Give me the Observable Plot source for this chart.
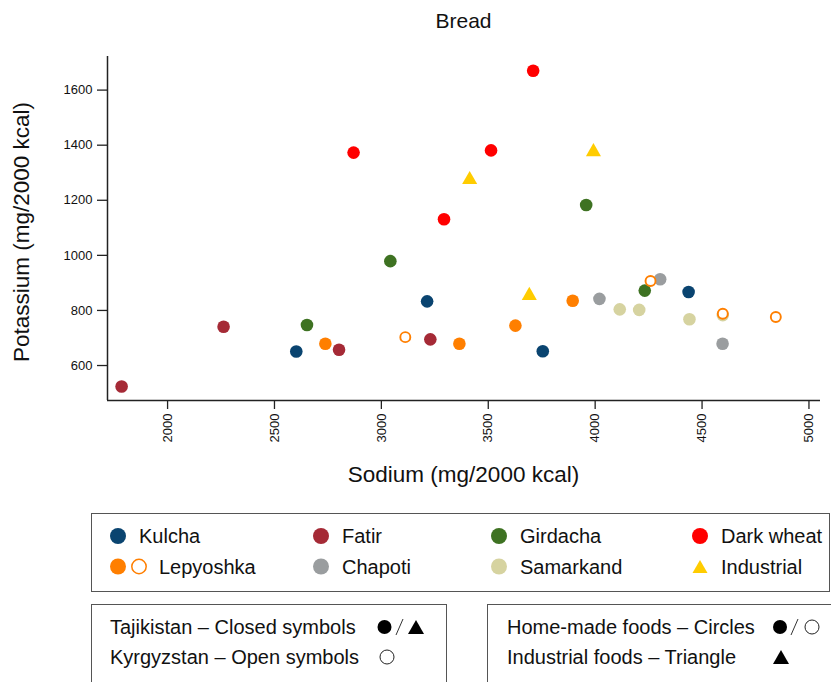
<!DOCTYPE html>
<html>
<head>
<meta charset="utf-8">
<script src="https://cdn.jsdelivr.net/npm/d3@7"></script>
<script src="https://cdn.jsdelivr.net/npm/@observablehq/plot@0.6"></script>
<style>
  body { margin: 0; background: #fff; font-family: "Liberation Sans", Arial, Helvetica, sans-serif; color: #111; }
  #wrap { position: relative; width: 831px; height: 682px; overflow: hidden; }
  #chart { position: absolute; left: 0; top: 0; }
  #chart svg text { font-size: 13px !important; font-family: "Liberation Sans", Arial, sans-serif !important; }
  .abs { position: absolute; white-space: nowrap; }
  .box { position: absolute; border: 1.3px solid #555; box-sizing: border-box; }
</style>
</head>
<body>
<div id="wrap">
  <div id="chart"></div>
</div>
<script>
// ---- data ----
const categories = ["Kulcha", "Fatir", "Girdacha", "Dark wheat", "Lepyoshka", "Chapoti", "Samarkand", "Industrial"];
const categoryColors = ["#0a4470", "#a52a36", "#3e7222", "#ff0000", "#ff7f00", "#9a9d9f", "#d6d3a0", "#ffcc00"];

const kulchaSodium = [2602, 3214, 3755, 4437];
const kulchaPotassium = [651, 833, 652, 867];
const fatirSodium = [1785, 2262, 2802, 3229];
const fatirPotassium = [524, 741, 657, 695];
const girdachaSodium = [2652, 3042, 3958, 4232];
const girdachaPotassium = [747, 979, 1183, 872];
const darkWheatSodium = [2870, 3293, 3513, 3710];
const darkWheatPotassium = [1373, 1131, 1381, 1670];
const lepyoshkaTjSodium = [2738, 3365, 3627, 3895];
const lepyoshkaTjPotassium = [679, 679, 745, 835];
const lepyoshkaKgSodium = [3112, 4259, 4597, 4845];
const lepyoshkaKgPotassium = [703, 907, 788, 776];
const chapotiSodium = [4020, 4304, 4596];
const chapotiPotassium = [842, 913, 679];
const samarkandSodium = [4115, 4206, 4441, 4597];
const samarkandPotassium = [804, 802, 768, 783];
const industrialSodium = [3413, 3692, 3992];
const industrialPotassium = [1275, 854, 1376];

const xTicks = [2000, 2500, 3000, 3500, 4000, 4500, 5000];
const yTicks = [600, 800, 1000, 1200, 1400, 1600];
const xDomain = [1719, 5054];
const yDomain = [473, 1722];

// ---- build tables ----
function rows(na, k, bread, country) {
  return na.map((v, i) => ({sodium: v, potassium: k[i], bread, country}));
}
const closed = [
  ...rows(kulchaSodium, kulchaPotassium, "Kulcha", "Tajikistan"),
  ...rows(fatirSodium, fatirPotassium, "Fatir", "Tajikistan"),
  ...rows(girdachaSodium, girdachaPotassium, "Girdacha", "Tajikistan"),
  ...rows(darkWheatSodium, darkWheatPotassium, "Dark wheat", "Tajikistan"),
  ...rows(lepyoshkaTjSodium, lepyoshkaTjPotassium, "Lepyoshka", "Tajikistan"),
  ...rows(chapotiSodium, chapotiPotassium, "Chapoti", "Tajikistan"),
  ...rows(samarkandSodium, samarkandPotassium, "Samarkand", "Tajikistan")
];
const open = rows(lepyoshkaKgSodium, lepyoshkaKgPotassium, "Lepyoshka", "Kyrgyzstan");
const industrial = rows(industrialSodium, industrialPotassium, "Industrial", "Tajikistan");

const color = {domain: categories, range: categoryColors};
const font = "Liberation Sans, Arial, Helvetica, sans-serif";
const plain = d => String(d);

const chart = Plot.plot({
  width: 831,
  height: 500,
  marginTop: 56,
  marginBottom: 100,
  marginLeft: 107,
  marginRight: 11,
  style: {fontFamily: font, fontSize: "13px", color: "#111", background: "transparent"},
  x: {domain: xDomain},
  y: {domain: yDomain},
  color,
  marks: [
    Plot.axisX({ticks: xTicks, tickFormat: plain, tickRotate: -90, tickSize: 9, tickPadding: 4, fontSize: 13, label: null, stroke: "#222", strokeWidth: 1.3}),
    Plot.axisY({ticks: yTicks, tickFormat: plain, tickSize: 10, tickPadding: 5, fontSize: 13, label: null, stroke: "#222", strokeWidth: 1.3}),
    Plot.ruleX([xDomain[0]], {stroke: "#222", strokeWidth: 1.5}),
    Plot.ruleY([yDomain[0]], {stroke: "#222", strokeWidth: 1.5}),
    Plot.dot(closed, {x: "sodium", y: "potassium", fill: "bread", r: 6.3, stroke: "none"}),
    Plot.dot(open, {x: "sodium", y: "potassium", stroke: "bread", fill: "white", r: 5, strokeWidth: 1.9}),
    Plot.dot(industrial, {x: "sodium", y: "potassium", fill: "bread", symbol: "triangle", r: 5.6, stroke: "none"})
  ]
});
document.getElementById("chart").appendChild(chart);

// ---- titles & labels (HTML) ----
const wrap = document.getElementById("wrap");
function addText(txt, css) {
  const d = document.createElement("div");
  d.className = "abs";
  d.textContent = txt;
  Object.assign(d.style, css);
  wrap.appendChild(d);
  return d;
}
addText("Bread", {left: "107px", width: "713px", textAlign: "center", top: "9px", height: "24px", lineHeight: "24px", fontSize: "21px"});
addText("Sodium (mg/2000 kcal)", {left: "107px", width: "713px", textAlign: "center", top: "462px", height: "26px", lineHeight: "26px", fontSize: "22.5px"});
addText("Potassium (mg/2000 kcal)", {left: "-128px", top: "219px", width: "300px", height: "26px", lineHeight: "26px", textAlign: "center", fontSize: "22.5px", transform: "rotate(-90deg)", transformOrigin: "150px 13px"});

// ---- legend boxes ----
function box(l, t, w, h) {
  const d = document.createElement("div");
  d.className = "box";
  Object.assign(d.style, {left: l + "px", top: t + "px", width: w + "px", height: h + "px"});
  wrap.appendChild(d);
}
box(91, 513, 739, 79);
box(91, 604, 356, 100);
box(487, 604, 360, 100);

const svgNS = "http://www.w3.org/2000/svg";
const overlay = document.createElementNS(svgNS, "svg");
overlay.setAttribute("width", 831);
overlay.setAttribute("height", 682);
overlay.style.position = "absolute";
overlay.style.left = "0";
overlay.style.top = "0";
overlay.style.pointerEvents = "none";
wrap.appendChild(overlay);
function el(tag, attrs) {
  const e = document.createElementNS(svgNS, tag);
  for (const k in attrs) e.setAttribute(k, attrs[k]);
  overlay.appendChild(e);
  return e;
}
function tri(cx, cy, w, h, fill) {
  el("polygon", {points: `${cx - w / 2},${cy + h / 2} ${cx + w / 2},${cy + h / 2} ${cx},${cy - h / 2}`, fill});
}
const colorOf = Object.fromEntries(categories.map((c, i) => [c, categoryColors[i]]));

const legendCols = [118, 321, 499, 700];
const rowY = [536, 566.5];
const legendLayout = [
  ["Kulcha", 0, 0], ["Fatir", 1, 0], ["Girdacha", 2, 0], ["Dark wheat", 3, 0],
  ["Lepyoshka", 0, 1], ["Chapoti", 1, 1], ["Samarkand", 2, 1], ["Industrial", 3, 1]
];
for (const [name, col, row] of legendLayout) {
  const cx = legendCols[col], cy = rowY[row];
  let textX = cx + 21;
  if (name === "Industrial") {
    tri(cx, cy, 15, 13, colorOf[name]);
  } else if (name === "Lepyoshka") {
    el("circle", {cx, cy, r: 8, fill: colorOf[name]});
    el("circle", {cx: cx + 21, cy, r: 7.2, fill: "white", stroke: colorOf[name], "stroke-width": 1.5});
    textX = cx + 41;
  } else {
    el("circle", {cx, cy, r: 8, fill: colorOf[name]});
  }
  addText(name, {left: textX + "px", top: (cy - 12) + "px", height: "24px", lineHeight: "24px", fontSize: "20px"});
}

// box 2 / 3 content
addText("Tajikistan \u2013 Closed symbols", {left: "110px", top: "615px", height: "24px", lineHeight: "24px", fontSize: "20px"});
addText("Kyrgyzstan \u2013 Open symbols", {left: "110px", top: "645px", height: "24px", lineHeight: "24px", fontSize: "20px"});
addText("Home-made foods \u2013 Circles", {left: "507px", top: "615px", height: "24px", lineHeight: "24px", fontSize: "20px"});
addText("Industrial foods \u2013 Triangle", {left: "507px", top: "645px", height: "24px", lineHeight: "24px", fontSize: "20px"});

el("circle", {cx: 384.5, cy: 627, r: 7, fill: "#000"});
el("line", {x1: 396, y1: 635, x2: 403, y2: 619, stroke: "#333", "stroke-width": 1});
tri(416, 627, 16, 14, "#000");
el("circle", {cx: 387, cy: 657, r: 7, fill: "none", stroke: "#222", "stroke-width": 1});

el("circle", {cx: 780, cy: 627, r: 7, fill: "#000"});
el("line", {x1: 791, y1: 635, x2: 798, y2: 619, stroke: "#333", "stroke-width": 1});
el("circle", {cx: 812, cy: 627, r: 7, fill: "none", stroke: "#222", "stroke-width": 1});
tri(781, 657, 16, 14, "#000");
</script>
</body>
</html>
